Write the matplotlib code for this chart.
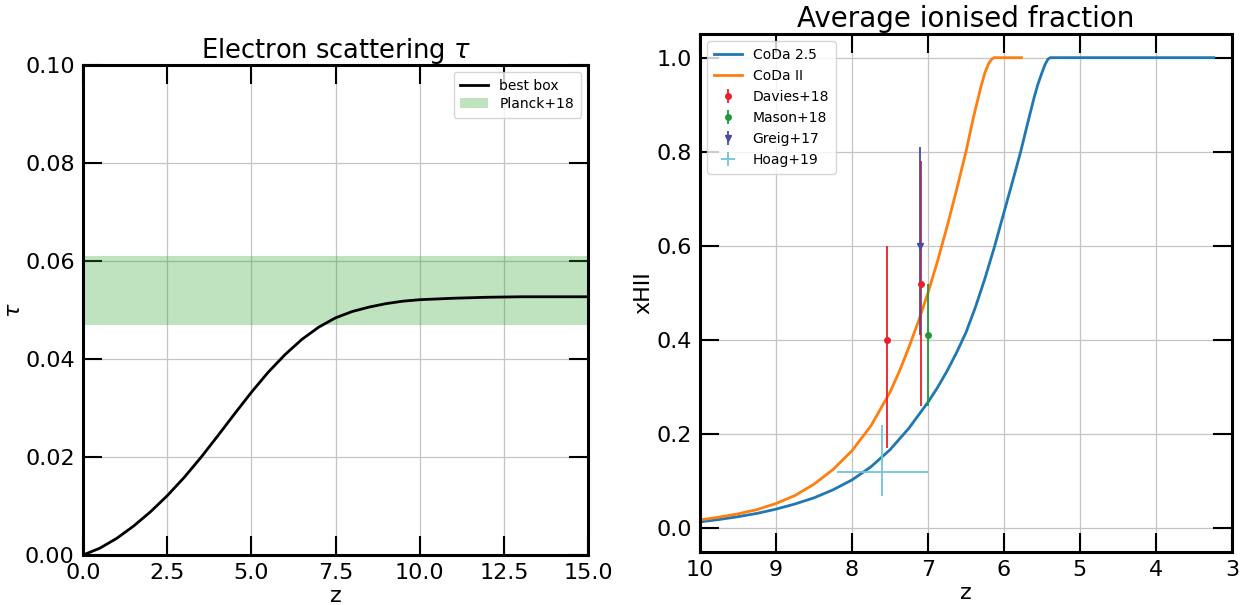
import numpy as np
import matplotlib
matplotlib.use("Agg")
import matplotlib.pyplot as plt

# ---------------- data ----------------
# Left panel: electron scattering optical depth
tau_z = [0.0, 0.5, 1.0, 1.5, 2.0, 2.5, 3.0, 3.5, 4.0, 4.5, 5.0, 5.5, 6.0,
         6.5, 7.0, 7.5, 8.0, 8.5, 9.0, 9.5, 10.0, 11.0, 12.0, 13.0, 14.0, 15.0]
tau_val = [0.0, 0.0014, 0.0034, 0.0059, 0.0088, 0.0121, 0.0158, 0.0199,
           0.0243, 0.0288, 0.0332, 0.0373, 0.0409, 0.0440, 0.0465, 0.0484,
           0.0497, 0.0506, 0.0513, 0.0518, 0.0521, 0.0524, 0.0526, 0.0527,
           0.0527, 0.0527]
planck_lo, planck_hi = 0.047, 0.061

# Right panel: average ionised fraction
coda25_z = [10.0, 9.75, 9.5, 9.25, 9.0, 8.75, 8.5, 8.25, 8.0, 7.75, 7.5, 7.25,
            7.0, 6.875, 6.75, 6.625, 6.5, 6.375, 6.25, 6.125, 6.0, 5.89, 5.78,
            5.7, 5.6, 5.55, 5.5, 5.46, 5.42, 5.39, 3.24]
coda25_x = [0.014, 0.019, 0.025, 0.032, 0.041, 0.052, 0.065, 0.082, 0.103,
            0.131, 0.167, 0.213, 0.268, 0.299, 0.334, 0.373, 0.416, 0.470,
            0.531, 0.598, 0.671, 0.735, 0.80, 0.853, 0.917, 0.945, 0.968,
            0.985, 0.997, 1.0, 1.0]
codaII_z = [10.0, 9.75, 9.5, 9.25, 9.0, 8.75, 8.5, 8.25, 8.0, 7.75, 7.5, 7.375,
            7.25, 7.125, 7.0, 6.875, 6.75, 6.625, 6.5, 6.4, 6.3, 6.25, 6.2,
            6.16, 6.13, 5.77]
codaII_x = [0.018, 0.024, 0.031, 0.040, 0.053, 0.070, 0.094, 0.125, 0.165,
            0.218, 0.289, 0.334, 0.385, 0.440, 0.50, 0.567, 0.64, 0.718, 0.80,
            0.874, 0.94, 0.968, 0.988, 0.997, 1.0, 1.0]

davies_z = [7.54, 7.09]
davies_x = [0.40, 0.52]
davies_lo = [0.23, 0.26]
davies_hi = [0.20, 0.26]

mason_z = [7.0]
mason_x = [0.41]
mason_lo = [0.15]
mason_hi = [0.11]

greig_z = [7.1]
greig_x = [0.60]
greig_lo = [0.19]
greig_hi = [0.21]

hoag_z = [7.6]
hoag_x = [0.12]
hoag_zerr = [0.6]
hoag_lo = [0.05]
hoag_hi = [0.10]

# ---------------- figure ----------------
plt.rcParams['font.family'] = ['DejaVu Sans']
fig = plt.figure(figsize=(12.45, 6.05), dpi=100)

ax1 = fig.add_axes([0.0667, 0.0826, 0.4056, 0.810])
ax2 = fig.add_axes([0.5622, 0.0876, 0.4273, 0.856])

def style(ax):
    ax.tick_params(direction='in', length=14, width=1.5, labelsize=16,
                   top=True, right=True, pad=6)
    for s in ax.spines.values():
        s.set_linewidth(2.2)
    ax.grid(True, color='#c4c4c4', lw=0.9)
    ax.set_axisbelow(True)

# Left panel
ax1.plot(tau_z, tau_val, color='black', lw=2, label='best box')
ax1.axhspan(planck_lo, planck_hi, color='tab:green', alpha=0.3, lw=0,
            label='Planck+18')
ax1.set_xlim(0, 15)
ax1.set_ylim(0, 0.1)
ax1.set_xticks(np.arange(0, 15.01, 2.5))
ax1.set_yticks(np.arange(0, 0.101, 0.02))
ax1.set_xlabel('z', fontsize=16, labelpad=2)
ax1.set_ylabel(r'$\tau$', fontsize=16, labelpad=1)
ax1.set_title(r'Electron scattering $\tau$', fontsize=18.5, pad=5)
style(ax1)
ax1.legend(loc='upper right', fontsize=10, labelspacing=0.3,
           handlelength=2.0, borderpad=0.5)

# Right panel
ax2.plot(coda25_z, coda25_x, color='tab:blue', lw=2, label='CoDa 2.5')
ax2.plot(codaII_z, codaII_x, color='tab:orange', lw=2, label='CoDa II')
ax2.errorbar(davies_z, davies_x, yerr=[davies_lo, davies_hi], fmt='o',
             color='#e8202c', ms=4, elinewidth=1.3, label='Davies+18')
ax2.errorbar(mason_z, mason_x, yerr=[mason_lo, mason_hi], fmt='o',
             color='#1f9a3a', ms=4, elinewidth=1.3, label='Mason+18')
ax2.errorbar(greig_z, greig_x, yerr=[greig_lo, greig_hi], fmt='v',
             color='#4a4aa2', ms=4, elinewidth=1.3, label='Greig+17')
ax2.errorbar(hoag_z, hoag_x, xerr=hoag_zerr, yerr=[hoag_lo, hoag_hi],
             fmt='none', ecolor='#72c4d8', elinewidth=1.3, label='Hoag+19')
ax2.set_xlim(10, 3)
ax2.set_ylim(-0.05, 1.05)
ax2.set_xticks(np.arange(10, 2.9, -1))
ax2.set_yticks(np.arange(0, 1.01, 0.2))
ax2.set_xlabel('z', fontsize=16, labelpad=2)
ax2.set_ylabel('xHII', fontsize=16, labelpad=2)
ax2.set_title('Average ionised fraction', fontsize=20, pad=5)
style(ax2)
ax2.legend(loc='upper left', fontsize=10, labelspacing=0.5,
           handlelength=2.0, borderpad=0.5)

fig.savefig('out.png', dpi=100)
